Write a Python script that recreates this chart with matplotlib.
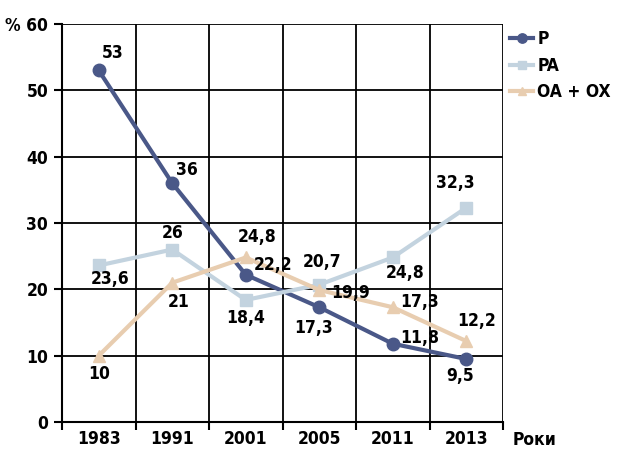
"""Recreate the P / PA / OA + OX share chart (1983-2013)."""

import matplotlib
matplotlib.use("Agg")
import matplotlib.pyplot as plt
from matplotlib import font_manager
import numpy as np

# Data
years = ["1983", "1991", "2001", "2005", "2011", "2013"]
p_values = [53, 36, 22.2, 17.3, 11.8, 9.5]
pa_values = [23.6, 26, 18.4, 20.7, 24.8, 32.3]
oa_ox_values = [10, 21, 24.8, 19.9, 17.3, 12.2]
series_names = ["P", "PA", "OA + OX"]
y_ticks = [0, 10, 20, 30, 40, 50, 60]
y_tick_labels = ["0", "10", "20", "30", "40", "50", "% 60"]

# Label offsets in pixels (dx, dy) for each point of each series
p_offsets = [(14, 17), (15, 13), (27, 10), (-6, -21), (27, 6), (-6, -17)]
pa_offsets = [(11, -14), (0, 17), (0, -18), (3, 23), (12, -16), (-11, 25)]
oa_offsets = [(0, -18), (6, -19), (11, 20), (31, -3), (27, 5), (10, 20)]

# Prefer a narrow font, like the condensed face of the original
installed = {f.name for f in font_manager.fontManager.ttflist}
if "Liberation Sans Narrow" in installed:
    plt.rcParams["font.family"] = ["Liberation Sans Narrow", "DejaVu Sans"]
    fsize = 14
else:
    plt.rcParams["font.family"] = ["DejaVu Sans"]
    plt.rcParams["font.stretch"] = "condensed"
    fsize = 12.5
plt.rcParams["font.weight"] = "bold"

fig = plt.figure(figsize=(6.18, 4.49), dpi=100)
ax = fig.add_axes([62 / 618, 27 / 449, 441 / 618, 398 / 449])

x = np.arange(len(years))
styles = [
    (p_values, "#4a5888", "o", 9, p_offsets),
    (pa_values, "#c3d3df", "s", 8, pa_offsets),
    (oa_ox_values, "#e8cdb0", "^", 8, oa_offsets),
]

for (values, color, marker, msize, offsets), name in zip(styles, series_names):
    ax.plot(x, values, color=color, linewidth=3, marker=marker, markersize=msize,
            label=name, zorder=3)
    for xi, v, (dx, dy) in zip(x, values, offsets):
        ax.annotate(f"{v:g}".replace(".", ","), (xi, v),
                    xytext=(dx * 0.72, dy * 0.72), textcoords="offset points",
                    ha="center", va="center", fontsize=fsize, fontweight="bold",
                    zorder=4)

ax.set_xlim(-0.5, len(years) - 0.5)
ax.set_ylim(0, 60)
ax.set_yticks(y_ticks)
ax.set_yticklabels(y_tick_labels)
ax.set_xticks(x)
ax.set_xticklabels(years)
ax.set_xticks(np.arange(len(years) + 1) - 0.5, minor=True)
ax.tick_params(axis="x", which="major", length=0, labelsize=fsize, pad=6)
ax.tick_params(axis="x", which="minor", length=6, width=1.5, direction="out")
ax.tick_params(axis="y", length=6, width=1.5, labelsize=fsize, pad=4)

ax.grid(axis="y", color="black", linewidth=1.3)
ax.grid(axis="x", which="minor", color="black", linewidth=1.3)
ax.set_axisbelow(True)
for spine in ax.spines.values():
    spine.set_linewidth(1.5)
ax.spines["top"].set_visible(False)
ax.spines["right"].set_visible(False)

fig.text(535 / 618, 1 - 440 / 449, "Роки", fontsize=fsize, fontweight="bold",
         ha="center", va="center")

ax.legend(loc="upper left", bbox_to_anchor=(1.017, 0.985), frameon=False,
          fontsize=fsize, handlelength=1.3, handletextpad=0.25, labelspacing=0.5,
          borderaxespad=0.0, borderpad=0.0, markerscale=0.75)

plt.savefig("out.png", dpi=100)
plt.close()
